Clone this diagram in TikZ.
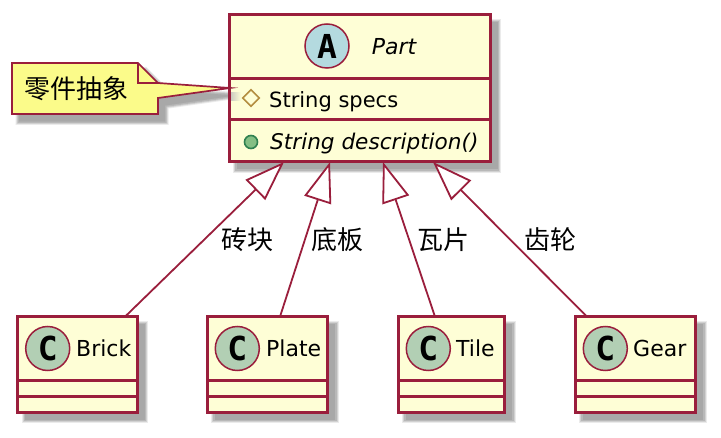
\documentclass[tikz,border=0pt]{standalone}
\usepackage{fontspec}
\setmainfont{DejaVu Sans}
\newfontfamily\cjk{Noto Sans CJK SC}
\newfontfamily\spotfont{DejaVu Sans Mono}
\usetikzlibrary{arrows.meta,shapes.geometric}
\definecolor{umlline}{HTML}{9A1E3C}
\definecolor{umlfill}{HTML}{FEFED6}
\definecolor{umlnote}{HTML}{FBFB8A}
\definecolor{umlgold}{HTML}{B38D3F}
\definecolor{memberline}{HTML}{2F8050}
\definecolor{memberfill}{HTML}{84BE84}
\definecolor{spotA}{HTML}{B4DADF}
\definecolor{spotC}{HTML}{B2CFB4}
\definecolor{shadeA}{gray}{0.92}
\definecolor{shadeB}{gray}{0.82}
\definecolor{shadeC}{gray}{0.72}
\definecolor{shadeD}{gray}{0.66}
\tikzset{
  classbox/.style={draw=umlline,fill=umlfill,line width=3pt,inner sep=0pt,outer sep=0pt},
  divider/.style={draw=umlline,line width=3pt},
  generalize/.style={draw=umlline,line width=1.8pt,-{Triangle[open,fill=white,length=40pt,width=28pt,line width=1.8pt]}},
  spot/.style={circle,draw=umlline,line width=1.5pt,inner sep=0pt,outer sep=0pt,minimum size=44pt},
  spotletter/.style={font=\spotfont\fontsize{33}{33}\selectfont\bfseries,text=black,inner sep=0pt},
  member/.style={font=\fontsize{21}{24}\selectfont,text=black,inner sep=0pt,anchor=base west},
  cnlabel/.style={font=\cjk\fontsize{26}{28}\selectfont,text=black,inner sep=0pt},
  classname/.style={font=\fontsize{22}{24}\selectfont,text=black,inner sep=0pt,anchor=base west}
}
\newcommand{\softrect}[4]{%
  \draw[shadeA,fill=shadeA,line width=7pt] (#1+7.5,#2+7.5) rectangle (#3+7.5,#4+7.5);
  \draw[shadeB,fill=shadeB,line width=5pt] (#1+7.5,#2+7.5) rectangle (#3+7.5,#4+7.5);
  \draw[shadeC,fill=shadeC,line width=3pt] (#1+7.5,#2+7.5) rectangle (#3+7.5,#4+7.5);
  \fill[shadeD] (#1+7.5,#2+7.5) rectangle (#3+7.5,#4+7.5);
}
\newcommand{\classitem}[6]{%
  \softrect{#2}{316.7}{#3}{412.3}
  \node[classbox,minimum width=#3pt-#2pt,minimum height=95.6pt] (#1) at ({(#2+#3)/2},364.5) {};
  \draw[divider] ([yshift=-64pt]#1.north west) -- ([yshift=-64pt]#1.north east);
  \draw[divider] ([yshift=-79.5pt]#1.north west) -- ([yshift=-79.5pt]#1.north east);
  \node[spot,fill=spotC] (#1spot) at (#4,348.5) {};
  \node[spotletter] (#1letter) at (#4,348.5) {C};
  \node[classname] (#1name) at (#5,357) {#6};
}
\begin{document}
\begin{tikzpicture}[x=1pt,y=-1pt]
\useasboundingbox (0,0) rectangle (721,438);
\fill[white] (0,0) rectangle (721,438);
% note shadow
\foreach \w/\c in {7/shadeA,5/shadeB,3/shadeC,0.1/shadeD}{
  \draw[\c,fill=\c,line width=\w pt,line join=miter,shift={(7,7.5)}]
    (12,63) -- (138,63) -- (158,83) -- (228,88) -- (158,98) -- (158,114) -- (12,114) -- cycle;
}
% Part
\softrect{229}{15}{490}{162}
\node[classbox,minimum width=261pt,minimum height=147pt] (part) at (359.5,88.5) {};
\draw[divider] ([yshift=-63.5pt]part.north west) -- ([yshift=-63.5pt]part.north east);
\draw[divider] ([yshift=-104.5pt]part.north west) -- ([yshift=-104.5pt]part.north east);
\node[spot,fill=spotA] (partspot) at (327,46) {};
\node[spotletter] (partletter) at (327,46) {A};
\node[font=\fontsize{22}{24}\selectfont\itshape,text=black,inner sep=0pt,anchor=base] (partname) at (394,55) {Part};
\fill[left color=shadeC!70!umlfill,right color=umlfill] (231,93) rectangle (241,101);
\node[diamond,draw=umlgold,line width=1.6pt,fill=umlfill,inner sep=0pt,minimum size=17pt,aspect=1] (specicon) at (251,98) {};
\node[member] (specs) at (269,108) {String specs};
\node[circle,draw=memberline,fill=memberfill,line width=1.6pt,inner sep=0pt,minimum size=13pt] (descicon) at (251,142) {};
\node[member,font=\fontsize{21.6}{24}\selectfont\itshape] (desc) at (270,150) {String description()};
% classes
\classitem{brick}{17.5}{137}{47.7}{76}{Brick}
\classitem{plate}{207}{327.5}{237.3}{266}{Plate}
\classitem{tile}{398}{504.7}{428.3}{456}{Tile}
\classitem{gear}{575}{695.7}{605.3}{633}{Gear}
% note
\draw[umlline,fill=umlnote,line width=1.7pt,line join=miter] (12,63) -- (138,63) -- (158,83) -- (230,88) -- (158,98) -- (158,114) -- (12,114) -- cycle;
\draw[umlline,line width=1.7pt] (138,63) -- (138,83) -- (158,83);
\node[cnlabel] (notetext) at (76,89) {零件抽象};
% connectors
\path (part.south west) ++(55,0) coordinate (tipa) (part.south west) ++(101,0) coordinate (tipb)
      (part.south west) ++(154,0) coordinate (tipc) (part.south west) ++(204,0) coordinate (tipd);
\coordinate (enda) at (125,316.7);
\coordinate (endb) at (280,316.7);
\coordinate (endc) at (435,316.7);
\coordinate (endd) at (587,316.7);
\draw[generalize] (enda) -- (tipa);
\draw[generalize] (endb) -- (tipb);
\draw[generalize] (endc) -- (tipc);
\draw[generalize] (endd) -- (tipd);
\node[cnlabel] (la) at (247,240) {砖块};
\node[cnlabel] (lb) at (337,240) {底板};
\node[cnlabel] (lc) at (443,240) {瓦片};
\node[cnlabel] (ld) at (550,240) {齿轮};
\end{tikzpicture}
\end{document}
